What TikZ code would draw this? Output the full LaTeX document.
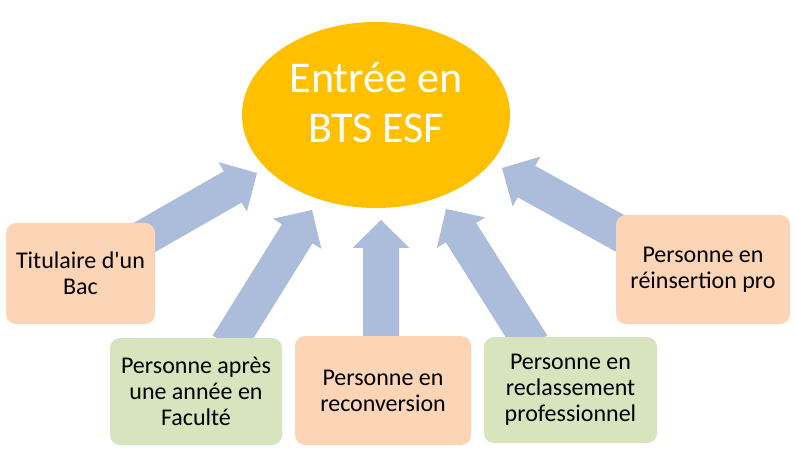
\documentclass[tikz,border=0pt]{standalone}
\usepackage{fontspec}
\setmainfont{Carlito}[Ligatures=TeXOff]
\usetikzlibrary{calc,shapes.geometric}
\definecolor{gold}{HTML}{FFC000}
\definecolor{peach}{HTML}{FBD5B5}
\definecolor{sage}{HTML}{D7E4BD}
\definecolor{arrowblue}{HTML}{ABBDDA}
\newcommand{\blockarrow}[2]{%
  \coordinate (hb) at ($(#2)!28pt!(#1)$);
  \fill[arrowblue]
    ($(#1)!18pt!90:(#2)$) -- ($(hb)!18pt!90:(#2)$) -- ($(hb)!28.5pt!90:(#2)$) --
    (#2) --
    ($(hb)!28.5pt!-90:(#2)$) -- ($(hb)!18pt!-90:(#2)$) -- ($(#1)!18pt!-90:(#2)$) -- cycle;
}
\tikzset{
  box/.style={rectangle, rounded corners=10pt, inner sep=0pt, align=center,
    font=\fontsize{24}{26}\selectfont, text=black},
  peachbox/.style={box, fill=peach},
  sagebox/.style={box, fill=sage},
}
\begin{document}
\begin{tikzpicture}[x=1pt,y=-1pt]
\useasboundingbox (0,0) rectangle (797,454);
\fill[white] (0,0) rectangle (797,454);
% arrow ends
\coordinate (t1) at (140,240);
\coordinate (p1) at (257,173);
\coordinate (t2) at (228,345);
\coordinate (p2) at (312,210);
\coordinate (t3) at (381,340);
\coordinate (p3) at (381,220);
\coordinate (t4) at (532,345);
\coordinate (p4) at (446,209);
\coordinate (t5) at (632,240);
\coordinate (p5) at (502,168);
\blockarrow{t1}{p1}
\blockarrow{t2}{p2}
\blockarrow{t3}{p3}
\blockarrow{t4}{p4}
\blockarrow{t5}{p5}
% centre
\node[ellipse, fill=gold, minimum width=268pt, minimum height=186pt, inner sep=0pt] (bts) at (376,115) {};
\node[align=center, text=white, inner sep=0pt, font=\fontsize{44}{50}\selectfont] (btstext) at (376,103)
  {Entrée en\\BTS ESF};
% boxes
\node[peachbox, minimum width=149pt, minimum height=101pt] (b1) at (80.5,273.5)
  {Titulaire d'un\\Bac};
\node[sagebox, minimum width=172pt, minimum height=107pt] (b2) at (196,391.5)
  {Personne après\\une année en\\Faculté};
\node[peachbox, minimum width=176pt, minimum height=109pt] (b3) at (383,390.5)
  {Personne en\\reconversion};
\node[sagebox, minimum width=173pt, minimum height=106pt] (b4) at (570.5,390)
  {Personne en\\reclassement\\professionnel};
\node[peachbox, minimum width=174pt, minimum height=109pt] (b5) at (703,269.5)
  {Personne en\\réinsertion pro};
\end{tikzpicture}
\end{document}
